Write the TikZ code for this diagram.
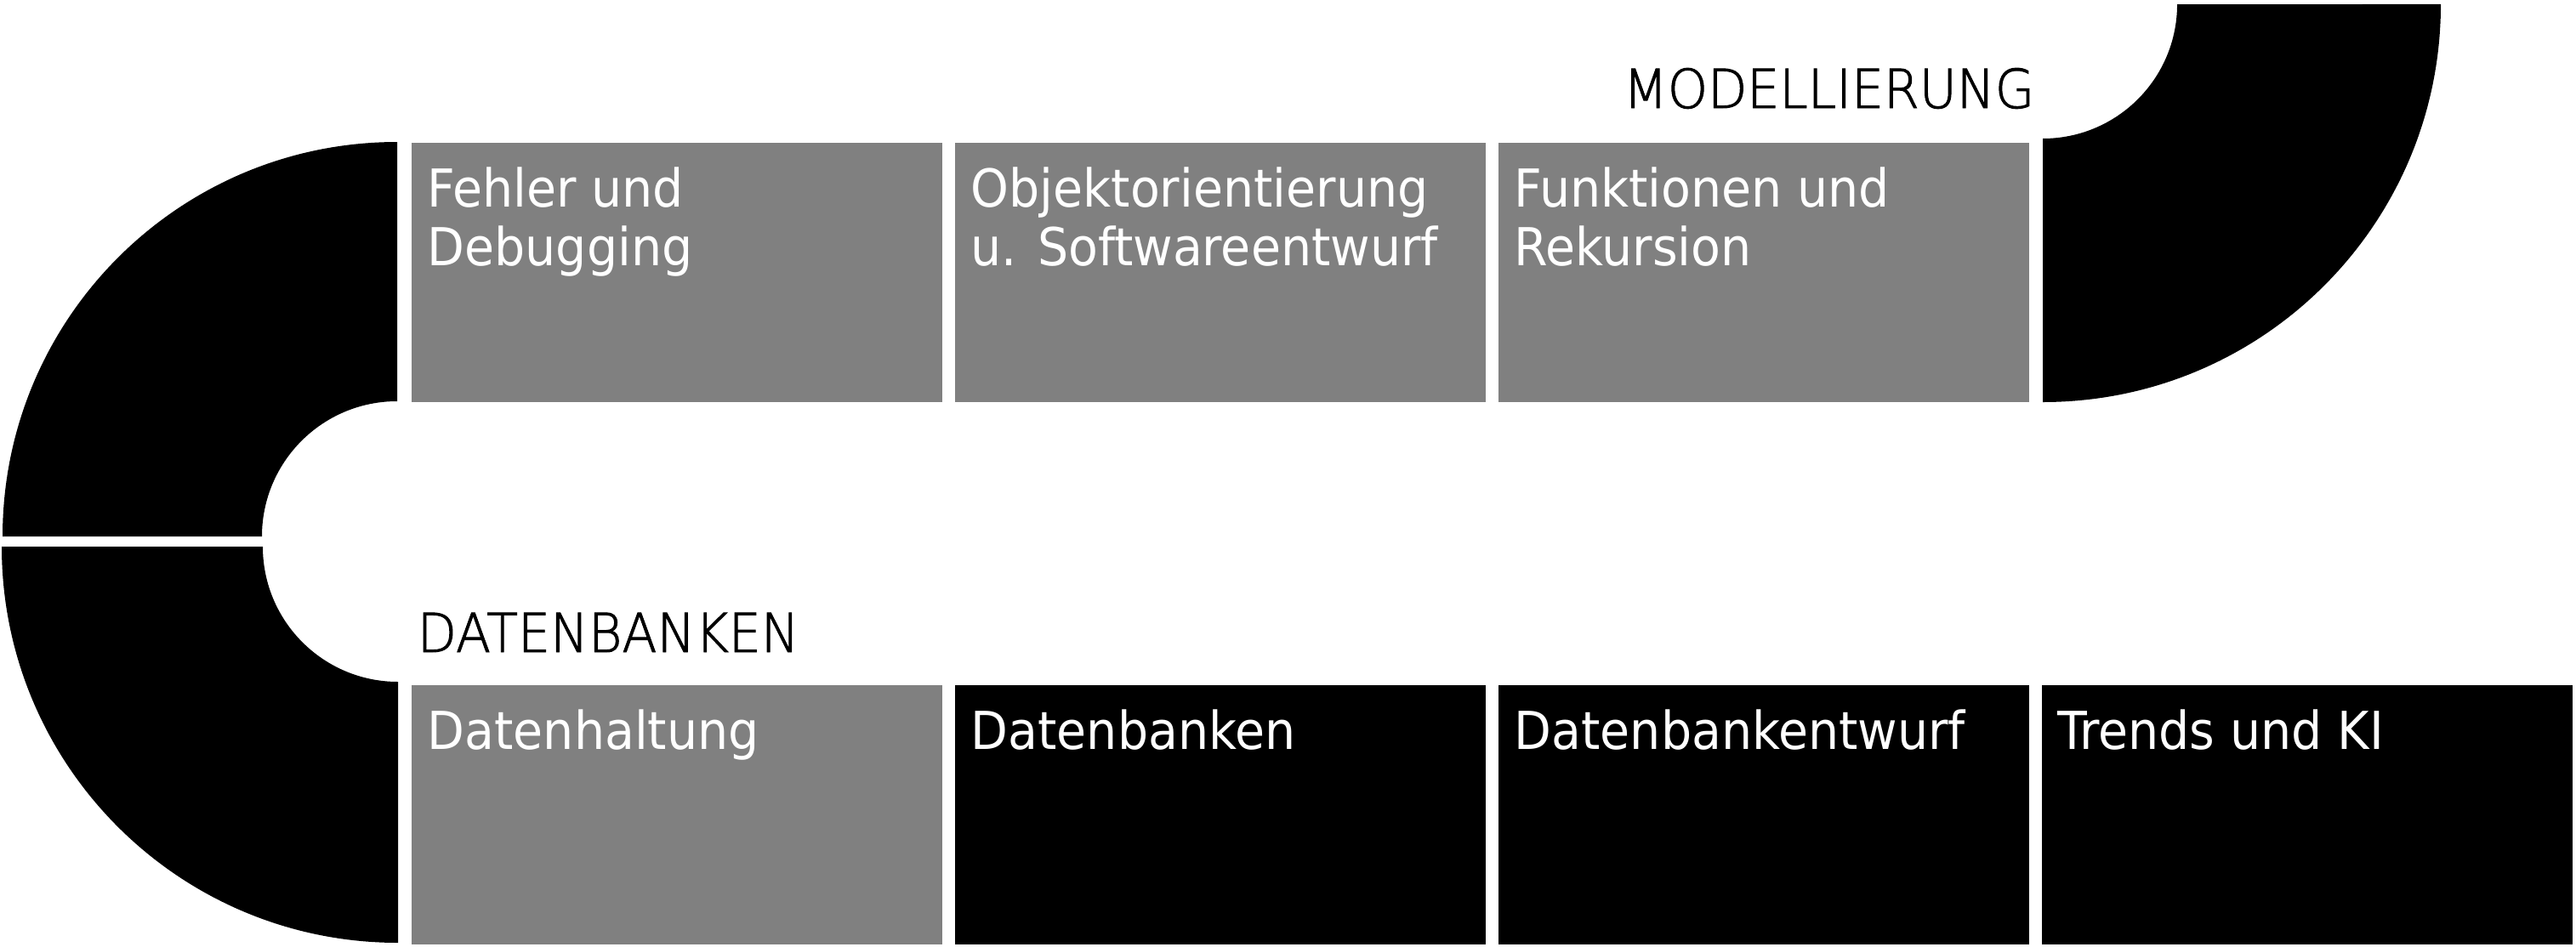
\documentclass[tikz,border=0pt]{standalone}
\usepackage{fontspec}
\usepackage{xcolor}
\usepackage{tikz}
\usetikzlibrary{positioning}
\newfontfamily\tilefont[FakeStretch=1.03]{DejaVu Sans Condensed}
\newfontfamily\headfont[FakeStretch=0.95, FakeBold=1.5]{DejaVu Sans ExtraLight}
\definecolor{tilegray}{HTML}{808080}

\begin{document}
\begin{tikzpicture}[
    node distance=0.15cm,
    tile/.style={rectangle, minimum width=6.24cm, minimum height=3.05cm, inner sep=0pt, outer sep=0pt},
    tiletext/.style={anchor=north west, inner sep=0pt, align=left, text=white, font=\tilefont\fontsize{17.5pt}{19.6pt}\selectfont},
    heading/.style={inner sep=0pt, font=\headfont\fontsize{18pt}{20pt}\selectfont}
]
    \path[fill=white, use as bounding box] (0,0) rectangle (30.29,11.13);

    % Bends
    \coordinate (bendtl) at (4.67,4.82);
    \coordinate (bendbl) at (4.68,4.70);
    \coordinate (bendtr) at (24.02,11.08);
    \fill ([yshift=4.64cm]bendtl) arc[start angle=90, end angle=180, radius=4.64] -- ([xshift=-1.59cm]bendtl) arc[start angle=180, end angle=90, radius=1.59] -- cycle;
    \fill ([yshift=-4.66cm]bendbl) arc[start angle=270, end angle=180, radius=4.66] -- ([xshift=-1.59cm]bendbl) arc[start angle=180, end angle=270, radius=1.59] -- cycle;
    \fill ([xshift=4.68cm]bendtr) arc[start angle=0, end angle=-90, radius=4.68] -- ([yshift=-1.58cm]bendtr) arc[start angle=-90, end angle=0, radius=1.58] -- cycle;

    % Top row
    \node[tile, fill=tilegray, anchor=south west] (fehler) at (4.84,6.40) {};
    \node[tile, fill=tilegray, right=of fehler] (objekt) {};
    \node[tile, fill=tilegray, right=of objekt] (funktionen) {};

    % Bottom row
    \node[tile, fill=tilegray, anchor=south west] (haltung) at (4.84,0.02) {};
    \node[tile, fill=black, right=of haltung] (banken) {};
    \node[tile, fill=black, right=of banken] (entwurf) {};
    \node[tile, fill=black, right=of entwurf] (trends) {};

    % Texts
    \node[tiletext] (t-fehler) at ([shift={(0.18,-0.28)}]fehler.north west) {Fehler und\\Debugging};
    \node[tiletext] (t-objekt) at ([shift={(0.18,-0.28)}]objekt.north west) {Objektorientierung\\u. Softwareentwurf};
    \node[tiletext] (t-funktionen) at ([shift={(0.18,-0.28)}]funktionen.north west) {Funktionen und\\Rekursion};
    \node[tiletext] (t-haltung) at ([shift={(0.18,-0.28)}]haltung.north west) {Datenhaltung};
    \node[tiletext] (t-banken) at ([shift={(0.18,-0.28)}]banken.north west) {Datenbanken};
    \node[tiletext] (t-entwurf) at ([shift={(0.18,-0.28)}]entwurf.north west) {Datenbankentwurf};
    \node[tiletext] (t-trends) at ([shift={(0.18,-0.28)}]trends.north west) {Trends und KI};

    % Headings
    \node[heading, anchor=base east] (modhead) at ([shift={(0.07,0.41)}]funktionen.north east) {MODELLIERUNG};
    \node[heading, anchor=base west] (dbhead) at ([shift={(0.06,0.39)}]haltung.north west) {DATENBANKEN};
\end{tikzpicture}
\end{document}
